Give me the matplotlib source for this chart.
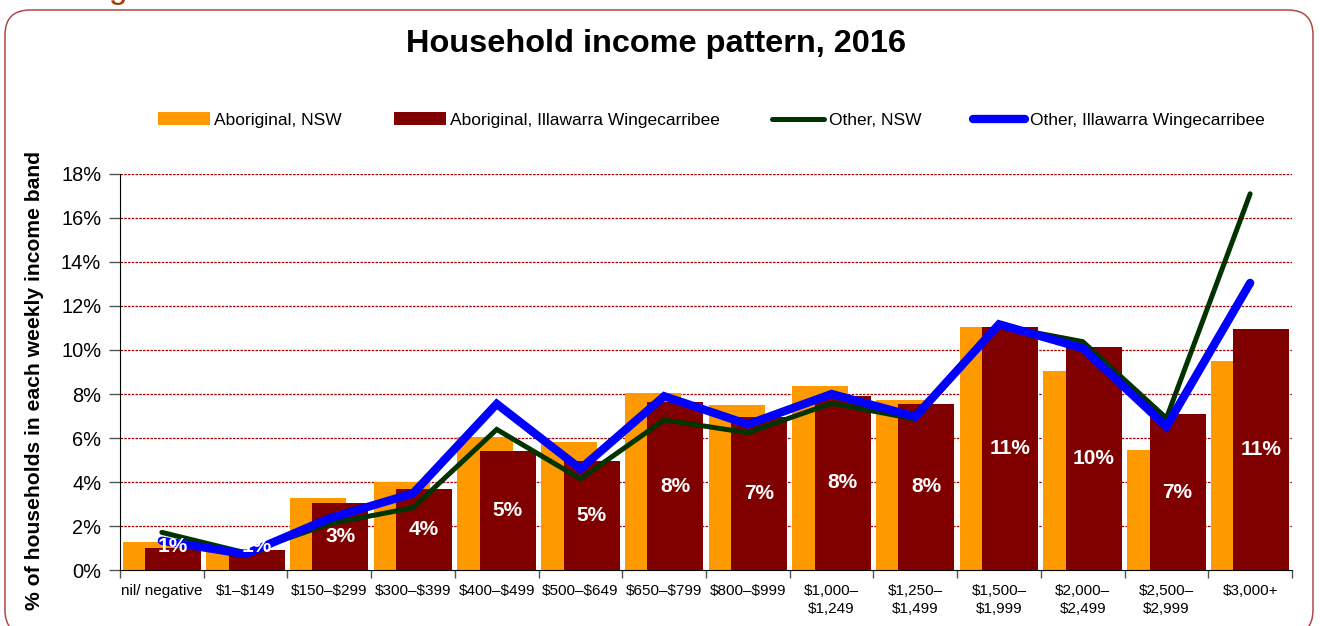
import matplotlib
matplotlib.use("Agg")
import matplotlib.pyplot as plt
import numpy as np
from matplotlib.patches import Patch, FancyBboxPatch
from matplotlib.lines import Line2D
from matplotlib.ticker import FuncFormatter

categories = ['nil/ negative', '$1–$149', '$150–$299', '$300–$399', '$400–$499',
              '$500–$649', '$650–$799', '$800–$999', '$1,000–\n$1,249',
              '$1,250–\n$1,499', '$1,500–\n$1,999', '$2,000–\n$2,499',
              '$2,500–\n$2,999', '$3,000+']
aboriginal_nsw = [1.26, 0.95, 3.26, 4.02, 6.03, 5.80, 8.03, 7.49, 8.38, 7.73, 11.06, 9.06, 5.45, 9.50]
aboriginal_iw = [1.01, 0.90, 3.03, 3.68, 5.41, 4.95, 7.62, 6.94, 7.92, 7.55, 11.06, 10.15, 7.09, 10.94]
other_nsw = [1.71, 0.78, 2.10, 2.83, 6.39, 4.14, 6.82, 6.24, 7.58, 6.86, 11.10, 10.38, 6.90, 17.10]
other_iw = [1.33, 0.72, 2.35, 3.48, 7.55, 4.60, 7.90, 6.62, 8.00, 6.97, 11.17, 10.08, 6.52, 13.05]
series_names = ['Aboriginal, NSW', 'Aboriginal, Illawarra Wingecarribee',
                'Other, NSW', 'Other, Illawarra Wingecarribee']
title = 'Household income pattern, 2016'
ylabel = '% of households in each weekly income band'

ORANGE = '#FF9900'
MAROON = '#800000'
GREEN = '#003300'
BLUE = '#0000FF'

NARROW = ['Liberation Sans Narrow', 'Liberation Sans', 'DejaVu Sans']
REG = ['Liberation Sans', 'DejaVu Sans']
plt.rcParams['font.family'] = REG

W, H = 1320, 626
fig = plt.figure(figsize=(W / 100, H / 100), dpi=100)
ax = fig.add_axes([120 / W, 1 - 570 / H, 1172 / W, 396 / H])

x = np.arange(len(categories))
bw = 0.67
ax.bar(x - 0.135, aboriginal_nsw, width=bw, color=ORANGE, zorder=2)
ax.bar(x + 0.133, aboriginal_iw, width=bw, color=MAROON, zorder=3)
ax.plot(x, other_nsw, color=GREEN, lw=3.6, zorder=4,
        solid_joinstyle='miter', solid_capstyle='round')
ax.plot(x, other_iw, color=BLUE, lw=6.0, zorder=5,
        solid_joinstyle='miter', solid_capstyle='round')

for xi, v in zip(x, aboriginal_iw):
    ax.text(xi + 0.133, max(v / 2, 1.05), f'{v:.0f}%', color='white', fontsize=15,
            fontweight='bold', ha='center', va='center', zorder=6, family=REG)

ax.set_xlim(-0.5, len(categories) - 0.5)
ax.set_ylim(0, 18)
ax.set_yticks(np.arange(0, 19, 2))
ax.yaxis.set_major_formatter(FuncFormatter(lambda v, p: f'{v:.0f}%'))
ax.tick_params(axis='y', labelsize=14.4, length=8, color='#555555', pad=5.5, width=1)
for yv in np.arange(2, 19, 2):
    ax.axhline(yv, color='#A00000', lw=0.9, ls=(0, (2, 1)), zorder=1)

ax.set_xticks(np.arange(-0.5, len(categories), 1.0))
ax.set_xticklabels([])
ax.set_xticks(x, minor=True)
ax.set_xticklabels([c.replace('$', r'\$') for c in categories], minor=True,
                   fontsize=11, family=NARROW, linespacing=1.4)
ax.tick_params(axis='x', which='major', length=6, color='#555555', width=1)
ax.tick_params(axis='x', which='minor', length=0, pad=10)

ax.spines['top'].set_visible(False)
ax.spines['right'].set_visible(False)
ax.spines['left'].set_color('black')
ax.spines['bottom'].set_color('black')

fig.text(656 / W, 1 - 44 / H, title, fontsize=23.4, fontweight='bold',
         ha='center', va='center', family=REG)
fig.text(35 / W, 1 - 381 / H, ylabel, fontsize=15.2, fontweight='bold',
         rotation=90, ha='center', va='center', family=REG)

handles = [Patch(facecolor=ORANGE), Patch(facecolor=MAROON),
           Line2D([], [], color=GREEN, lw=3.6, solid_capstyle='round'),
           Line2D([], [], color=BLUE, lw=6.0, solid_capstyle='round')]
fig.legend(handles, series_names, loc='center', ncol=4,
           bbox_to_anchor=(711 / W, 1 - 120 / H), frameon=False,
           prop={'family': NARROW, 'size': 12.5}, handlelength=3.0,
           handletextpad=0.25, columnspacing=3.0)

frame = FancyBboxPatch((5, -9), 1308, 625, boxstyle='round,pad=0,rounding_size=25',
                       transform=None, facecolor='none', edgecolor='#B04848',
                       lw=1.1, zorder=10)
fig.patches.append(frame)
fig.text(118 / W, 1 + 2 / H, 'g', color='#A33A00', fontsize=24,
         ha='center', va='baseline', family=REG)

fig.savefig('out.png', dpi=100)
